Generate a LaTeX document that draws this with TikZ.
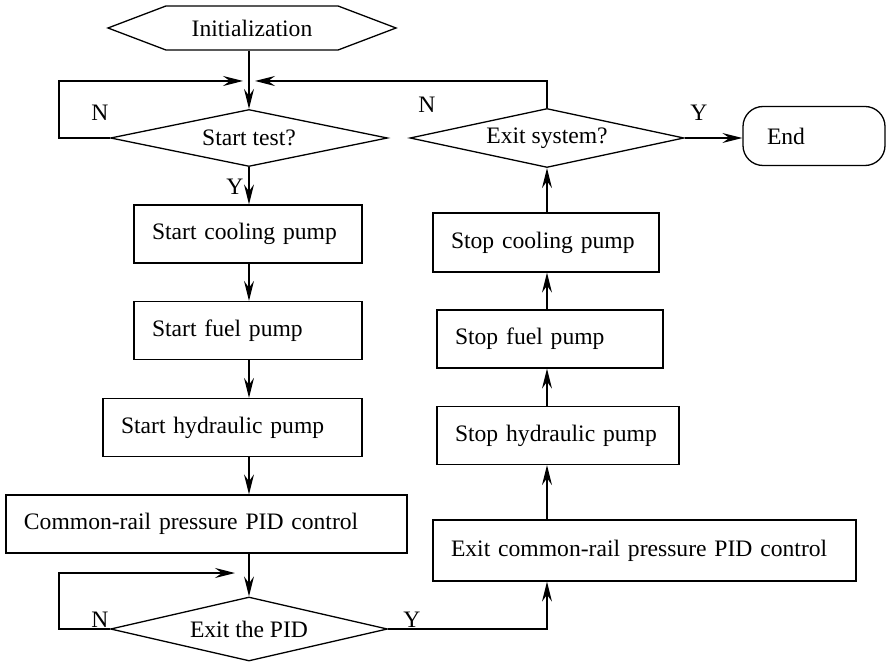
\documentclass[tikz,border=0pt]{standalone}
\usepackage{fontspec}
\setmainfont{Liberation Serif}
\usetikzlibrary{shapes.geometric,shapes.symbols,arrows.meta}

\begin{document}
\begin{tikzpicture}[
    x=0.5pt,y=-0.5pt,
    font=\fontsize{11.8pt}{14pt}\selectfont,
    line width=0.65pt,
    arr/.style={-{Stealth[length=10pt,width=5pt,inset=3.5pt]}},
    proc/.style={draw,rectangle,minimum height=29pt,inner xsep=9pt,inner ysep=0pt,align=left},
    cond/.style={draw,diamond,inner sep=0pt,aspect=4.8,minimum width=138.5pt,minimum height=28.5pt},
    hexa/.style={draw,signal,signal to=west and east,signal pointer angle=41.6,inner sep=0pt,minimum width=144pt,minimum height=22pt},
    term/.style={draw,rectangle,rounded corners=10pt,minimum height=29.5pt,inner xsep=12pt,align=left},
    lab/.style={inner sep=0pt}
  ]
  \useasboundingbox (0,0) rectangle (887,662);
  % columns and loop corners
  \coordinate (lc) at (249,0);
  \coordinate (rc) at (547,0);
  \coordinate (jn) at (249,81);
  \coordinate (ltop) at (59,81);
  \coordinate (pj) at (249,573);
  \coordinate (lbot) at (59,573);
  % start-up side
  \node[hexa] (init) at (252,28) {Initialization};
  \node[cond] (test) at (249,138) {Start test?};
  \node[proc,text width=96pt] (cool) at (248,234) {Start cooling pump};
  \node[proc,text width=96pt] (fuel) at (248,330.5) {Start fuel pump};
  \node[proc,text width=111.5pt] (hyd) at (232.5,427.5) {Start hydraulic pump};
  \node[proc,text width=182.5pt] (rail) at (206.5,524) {Common-rail pressure PID control};
  \node[cond,minimum height=32pt] (pid) at (249,629) {Exit the PID};
  % shut-down side
  \node[proc,text width=193.5pt,minimum height=30.5pt] (srail) at (644.5,550.5) {Exit common-rail pressure PID control};
  \node[proc,text width=103pt] (shyd) at (558,435.5) {Stop hydraulic pump};
  \node[proc,text width=95pt] (sfuel) at (550,339) {Stop fuel pump};
  \node[proc,text width=95pt,minimum height=29.5pt] (scool) at (546,242.5) {Stop cooling pump};
  \node[cond,minimum width=137pt,minimum height=29.5pt] (quit) at (547,138) {Exit system?};
  \node[term,text width=47pt] (end) at (814,136) {End};
  % branch labels
  \node[lab] (n1) at (100,113) {N};
  \node[lab] (n2) at (427,105) {N};
  \node[lab] (y1) at (235,187) {Y};
  \node[lab] (y2) at (699,113) {Y};
  \node[lab] (n3) at (100,620) {N};
  \node[lab] (y3) at (412,620) {Y};
  % flow
  \draw[arr] (init.south -| lc) -- (test.north);
  \draw[arr,shorten >=3pt] (test.west) -| (ltop) -- (jn);
  \draw[arr,shorten >=3pt] (quit.north) |- (jn);
  \draw[arr] (quit.east) -- (quit.east -| end.west);
  \draw[arr] (test.south) -- (cool.north -| lc);
  \draw[arr] (cool.south -| lc) -- (fuel.north -| lc);
  \draw[arr] (fuel.south -| lc) -- (hyd.north -| lc);
  \draw[arr] (hyd.south -| lc) -- (rail.north -| lc);
  \draw[arr] (rail.south -| lc) -- (pid.north);
  \draw[arr,shorten >=7pt] (pid.west) -| (lbot) -- (pj);
  \draw[arr] (pid.east) -| (srail.south -| rc);
  \draw[arr] (srail.north -| rc) -- (shyd.south -| rc);
  \draw[arr] (shyd.north -| rc) -- (sfuel.south -| rc);
  \draw[arr] (sfuel.north -| rc) -- (scool.south -| rc);
  \draw[arr] (scool.north -| rc) -- (quit.south);
\end{tikzpicture}
\end{document}
